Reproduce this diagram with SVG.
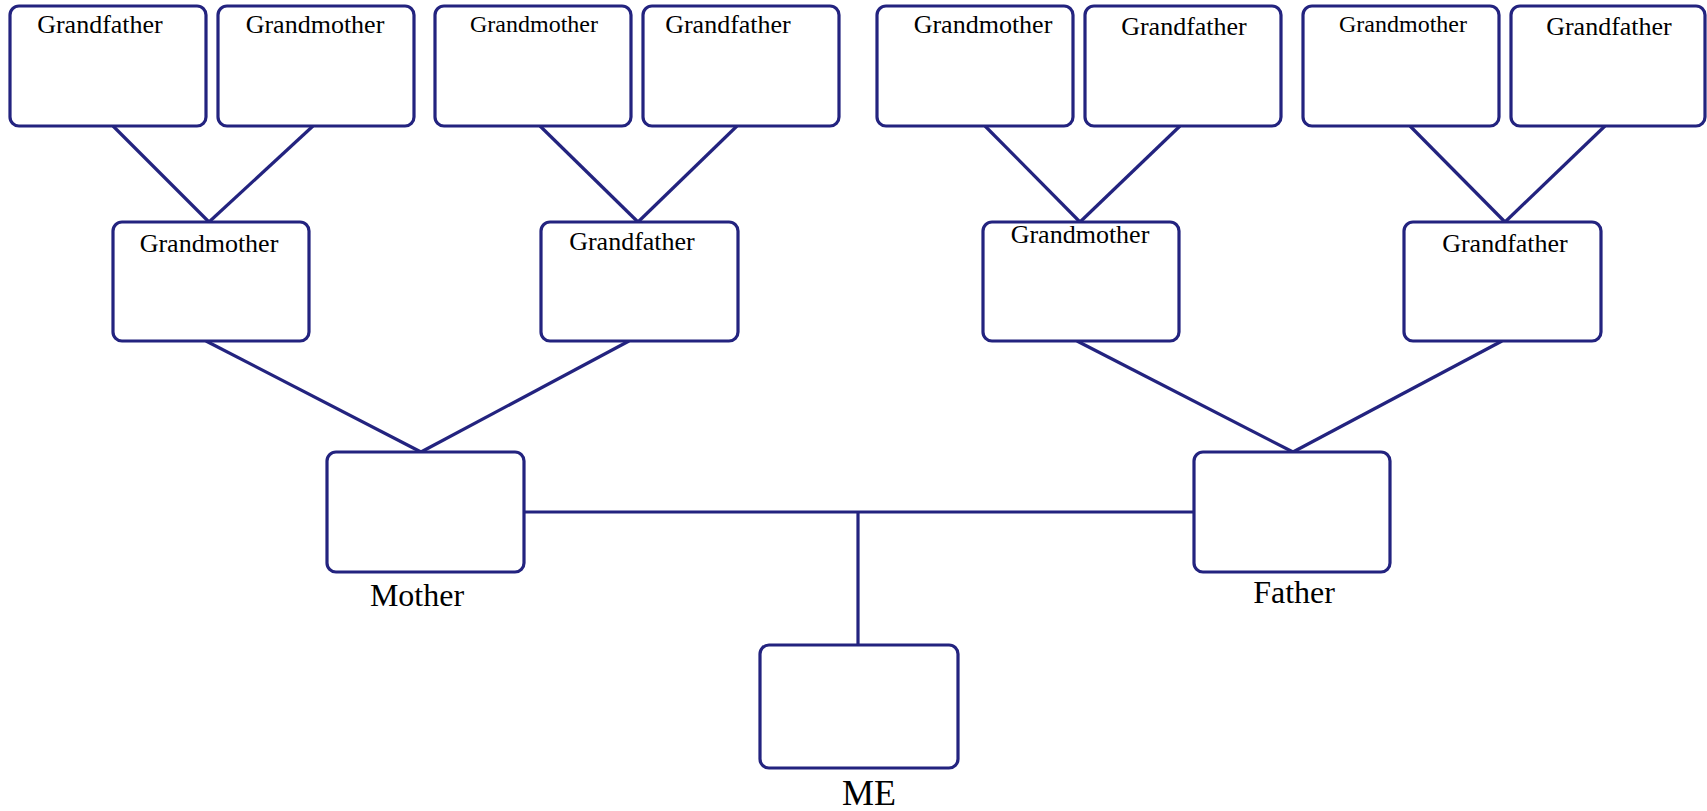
<svg xmlns="http://www.w3.org/2000/svg" width="1707" height="811" viewBox="0 0 1707 811">
<style>
.box{fill:#ffffff;stroke:#23237f;stroke-width:3.2}
.ln{stroke:#23237f;stroke-width:3.2;fill:none}
text{font-family:"Liberation Serif","Times New Roman",serif;fill:#000;text-anchor:middle}
.t26{font-size:26px}
.t24{font-size:24px}
.t32{font-size:32px}
</style>
<rect width="1707" height="811" fill="#ffffff"/>
<g id="connectors">
<line class="ln" x1="113" y1="126" x2="209" y2="222"/>
<line class="ln" x1="313" y1="126" x2="209" y2="222"/>
<line class="ln" x1="540" y1="126" x2="638" y2="222"/>
<line class="ln" x1="737" y1="126" x2="638" y2="222"/>
<line class="ln" x1="985" y1="126" x2="1080" y2="222"/>
<line class="ln" x1="1180" y1="126" x2="1080" y2="222"/>
<line class="ln" x1="1410" y1="126" x2="1505" y2="222"/>
<line class="ln" x1="1605" y1="126" x2="1505" y2="222"/>
<line class="ln" x1="206" y1="341" x2="421" y2="452"/>
<line class="ln" x1="629" y1="341" x2="421" y2="452"/>
<line class="ln" x1="1077" y1="341" x2="1293" y2="452"/>
<line class="ln" x1="1502" y1="341" x2="1293" y2="452"/>
<line class="ln" x1="524" y1="512" x2="1194" y2="512"/>
<line class="ln" x1="858" y1="512" x2="858" y2="645"/>
</g>
<g id="gp1"><rect class="box" x="10" y="6" width="196" height="120" rx="9"/><text class="t26" x="100" y="33">Grandfather</text></g>
<g id="gp2"><rect class="box" x="218" y="6" width="196" height="120" rx="9"/><text class="t26" x="315" y="33">Grandmother</text></g>
<g id="gp3"><rect class="box" x="435" y="6" width="196" height="120" rx="9"/><text class="t24" x="534" y="32">Grandmother</text></g>
<g id="gp4"><rect class="box" x="643" y="6" width="196" height="120" rx="9"/><text class="t26" x="728" y="33">Grandfather</text></g>
<g id="gp5"><rect class="box" x="877" y="6" width="196" height="120" rx="9"/><text class="t26" x="983" y="33">Grandmother</text></g>
<g id="gp6"><rect class="box" x="1085" y="6" width="196" height="120" rx="9"/><text class="t26" x="1184" y="35">Grandfather</text></g>
<g id="gp7"><rect class="box" x="1303" y="6" width="196" height="120" rx="9"/><text class="t24" x="1403" y="32">Grandmother</text></g>
<g id="gp8"><rect class="box" x="1511" y="6" width="194" height="120" rx="9"/><text class="t26" x="1609" y="35">Grandfather</text></g>
<g id="g1"><rect class="box" x="113" y="222" width="196" height="119" rx="9"/><text class="t26" x="209" y="252">Grandmother</text></g>
<g id="g2"><rect class="box" x="541" y="222" width="197" height="119" rx="9"/><text class="t26" x="632" y="250">Grandfather</text></g>
<g id="g3"><rect class="box" x="983" y="222" width="196" height="119" rx="9"/><text class="t26" x="1080" y="243">Grandmother</text></g>
<g id="g4"><rect class="box" x="1404" y="222" width="197" height="119" rx="9"/><text class="t26" x="1505" y="252">Grandfather</text></g>
<g id="mother"><rect class="box" x="327" y="452" width="197" height="120" rx="9"/><text class="t32" x="417" y="606">Mother</text></g>
<g id="father"><rect class="box" x="1194" y="452" width="196" height="120" rx="9"/><text class="t32" x="1294" y="603">Father</text></g>
<g id="me"><rect class="box" x="760" y="645" width="198" height="123" rx="9"/><text x="869" y="805" style="font-size:36px">ME</text></g>
</svg>
